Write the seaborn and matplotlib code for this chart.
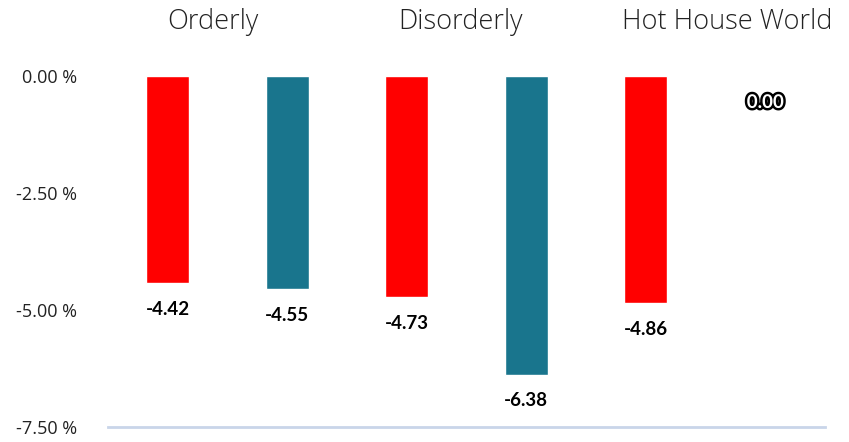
import matplotlib
matplotlib.use("Agg")
import matplotlib.pyplot as plt
import matplotlib.patheffects as pe
import seaborn as sns
import pandas as pd

groups = ["Orderly", "Disorderly", "Hot House World"]
series = ["Series 1", "Series 2"]
values_s1 = [-4.42, -4.73, -4.86]
values_s2 = [-4.55, -6.38, 0.00]
yticks = [0.0, -2.5, -5.0, -7.5]
ytick_labels = ["0.00 %", "-2.50 %", "-5.00 %", "-7.50 %"]
colors = ["#FF0000", "#19758D"]

df = pd.DataFrame({
    "group": groups * 2,
    "series": [series[0]] * 3 + [series[1]] * 3,
    "value": values_s1 + values_s2,
})

sns.set_theme(style="white")
plt.rcParams["font.family"] = ["Open Sans", "DejaVu Sans"]

W, H = 849, 442
fig = plt.figure(figsize=(W / 100, H / 100), dpi=100)
ax = fig.add_axes([108 / W, 15 / H, (825 - 108) / W, (427 - 76) / H])

sns.barplot(data=df, x="group", y="value", hue="series", order=groups,
            hue_order=series, palette=colors, width=1.0, gap=0.64,
            legend=False, ax=ax, saturation=1, errorbar=None)

ax.set_xlim(-0.5, 2.5)
ax.set_ylim(-7.5, 0)
ax.set_yticks(yticks)
ax.set_yticklabels(ytick_labels, fontsize=13, color="#222222")
ax.tick_params(axis="y", length=0, pad=22)
ax.set_xticks([])
ax.set_xlabel("")
ax.set_ylabel("")
for s in ["top", "right", "left"]:
    ax.spines[s].set_visible(False)
ax.spines["bottom"].set_color("#C9D5E9")
ax.spines["bottom"].set_linewidth(2)

for cont in ax.containers:
    for bar in cont:
        val = bar.get_height()
        xc = bar.get_x() + bar.get_width() / 2
        if val == 0:
            t = ax.annotate(f"{val:.2f}", (xc, val), xytext=(0, -19),
                            textcoords="offset points", ha="center", va="center",
                            fontsize=13.5, fontweight="bold", color="white",
                            family=["Lato", "DejaVu Sans"], annotation_clip=False)
            t.set_path_effects([pe.Stroke(linewidth=3.5, foreground="black"), pe.Normal()])
        else:
            ax.annotate(f"{val:.2f}", (xc, val), xytext=(0, -19),
                        textcoords="offset points", ha="center", va="center",
                        fontsize=13.5, fontweight="bold", color="black",
                        family=["Lato", "DejaVu Sans"], annotation_clip=False)

title_x = [213, 461, 727]
for g, px in zip(groups, title_x):
    fig.text(px / W, 1 - 22 / H, g, ha="center", va="center", fontsize=19.5,
             fontweight="light", color="#222222")

fig.savefig("out.png", dpi=100)
